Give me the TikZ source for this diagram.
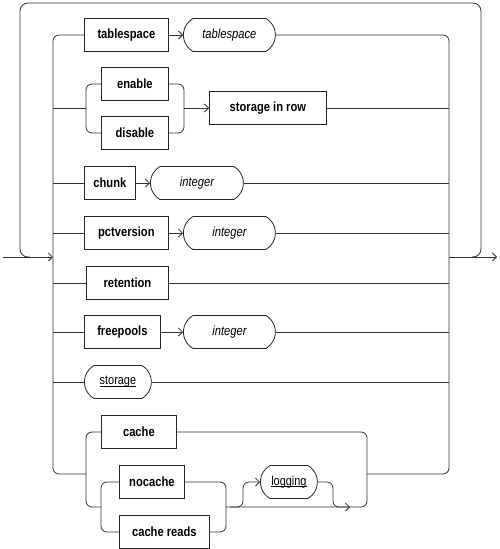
\documentclass[tikz,border=0pt]{standalone}
\usepackage{fontspec}
\setmainfont{Liberation Sans}
\newfontfamily\kwfont[FakeStretch=0.84]{Liberation Sans}
\usetikzlibrary{arrows.meta,shapes.misc}
\newcommand\myul[1]{\setbox0=\hbox{#1}\rlap{\rule[-1.6pt]{\wd0}{0.6pt}}\box0}
\begin{document}
\begin{tikzpicture}[x=1pt,y=-1pt,
  kw/.style={draw=black!85, line width=0.8pt, rectangle, font=\kwfont\fontsize{13.3}{15}\selectfont\bfseries, inner sep=0pt, anchor=west, minimum height=33pt},
  var/.style={draw=black!85, line width=0.8pt, rounded rectangle, rounded rectangle arc length=120, font=\kwfont\fontsize{13.3}{15}\selectfont\itshape, inner sep=0pt, anchor=west, minimum height=33pt},
  ref/.style={var, font=\kwfont\fontsize{13}{15}\selectfont},
  conn/.style={draw=black!80, line width=0.8pt},
  rc/.style={conn, rounded corners=6pt},
  arr/.style={-{Straight Barb[length=4pt,width=8pt]}},
]
\useasboundingbox (0,0) rectangle (500,549);

% coordinates
\coordinate (start) at (3,257);
\coordinate (L) at (53,257);
\coordinate (R) at (449,257);
\coordinate (finish) at (497,257);
\coordinate (oL) at (30,257);
\coordinate (oR) at (472,257);
\coordinate (lb) at (53,474);
\coordinate (rb) at (449,474);
\coordinate (ebL) at (86,108);
\coordinate (ebR) at (184,108);
\coordinate (cjL) at (86,474);
\coordinate (cbR) at (367,474);
\coordinate (nL) at (101,507);
\coordinate (nR) at (226,507);
\coordinate (lgA) at (230,507);
\coordinate (lgB) at (243,482);
\coordinate (lgC) at (333,507);
\coordinate (lgD) at (350,507);

% nodes
\node[kw, minimum width=84pt] (ts) at (84,35) {tablespace};
\node[var, minimum width=92pt] (tsv) at (183,35) {tablespace};
\node[kw, minimum width=67pt] (en) at (101,84) {enable};
\node[kw, minimum width=67pt] (dis) at (101,133) {disable};
\node[kw, minimum width=117pt] (sir) at (209,108) {storage in row};
\node[kw, minimum width=51pt] (chunk) at (84,183) {chunk};
\node[var, minimum width=93pt] (int1) at (150,183) {integer};
\node[kw, minimum width=84pt] (pct) at (84,233) {pctversion};
\node[var, minimum width=92pt] (int2) at (183,233) {integer};
\node[kw, minimum width=82pt] (ret) at (86,283) {retention};
\node[kw, minimum width=76pt] (free) at (84,332) {freepools};
\node[var, minimum width=92pt] (int3) at (183,332) {integer};
\node[ref, minimum width=67pt] (stor) at (84,382) {\myul{storage}};
\node[kw, minimum width=75pt] (cache) at (101,432) {cache};
\node[kw, minimum width=65pt] (noc) at (119,482) {nocache};
\node[kw, minimum width=90pt] (cr) at (119,532) {cache reads};
\node[ref, minimum width=57pt] (log) at (260,482) {\myul{logging}};

% outer loop
\draw[conn, rounded corners=8pt] (oR) -- (481,257) -- (481,3) -- (20,3) -- (20,257) -- (oL);
% main line
\draw[conn, arr] (start) -- (L);
\draw[conn, arr] (R) -- (finish);
% rails
\draw[rc] (ts.west) -| (lb) -- (cjL);
\draw[rc] (tsv.east) -| (rb) -- (cbR);
% row 1
\draw[conn, arr] (ts) -- (tsv);
% enable/disable
\draw[conn] (ebL -| L) -- (ebL);
\draw[rc] (en.west) -| (ebL) |- (dis.west);
\draw[rc] (en.east) -| (ebR) |- (dis.east);
\draw[conn, arr] (ebR) -- (sir.west);
\draw[conn] (sir.east) -- (sir.east -| R);
% chunk
\draw[conn] (chunk.west -| L) -- (chunk.west);
\draw[conn, arr] (chunk) -- (int1);
\draw[conn] (int1.east) -- (int1.east -| R);
% pctversion
\draw[conn] (pct.west -| L) -- (pct.west);
\draw[conn, arr] (pct) -- (int2);
\draw[conn] (int2.east) -- (int2.east -| R);
% retention
\draw[conn] (ret.west -| L) -- (ret.west);
\draw[conn] (ret.east) -- (ret.east -| R);
% freepools
\draw[conn] (free.west -| L) -- (free.west);
\draw[conn, arr] (free) -- (int3);
\draw[conn] (int3.east) -- (int3.east -| R);
% storage
\draw[conn] (stor.west -| L) -- (stor.west);
\draw[conn] (stor.east) -- (stor.east -| R);
% cache group
\draw[rc] (cache.west) -| (cjL) |- (nL);
\draw[rc] (noc.west) -| (nL) |- (cr.west);
\draw[rc] (noc.east) -| (nR) |- (cr.east);
\draw[rc] (cache.east) -| (cbR) |- (nR);
\draw[rc, arr] (lgA) -| (lgB) -- (log.west);
\draw[rc, arr] (log.east) -| (lgC) -- (lgD);
\end{tikzpicture}
\end{document}
